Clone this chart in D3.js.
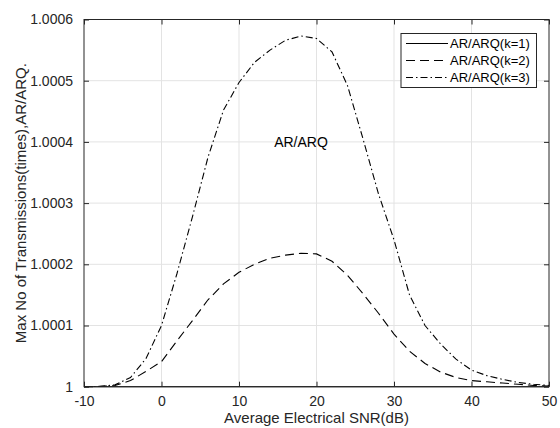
<!DOCTYPE html>
<meta charset="utf-8">
<style>
    body { margin: 0; background: #fff; }
    .container { width: 560px; height: 428px; }
    text { font-family: "Liberation Sans", Arial, sans-serif; fill: #262626; }
</style>
<body>

<div class="container"></div>

<script src="https://cdn.jsdelivr.net/npm/d3@7"></script>

<script>

// Average electrical SNR (dB)
const snr = [-10, -8, -6, -4, -2, 0, 2, 4, 6, 8, 10, 12, 14, 16, 18, 20,
             22, 24, 26, 28, 30, 32, 34, 36, 38, 40, 42, 44, 46, 48, 50];

// max no. of transmissions
const k1 = [1, 1, 1, 1, 1, 1, 1, 1, 1, 1, 1, 1, 1, 1, 1, 1,
            1, 1, 1, 1, 1, 1, 1, 1, 1, 1, 1, 1, 1, 1, 1];
const k2 = [1, 1.0000003, 1.000002, 1.00001, 1.000025, 1.000041, 1.000075, 1.000108,
            1.000142, 1.000168, 1.000187, 1.0002, 1.00021, 1.000215, 1.000218, 1.000217,
            1.000205, 1.000182, 1.000152, 1.00012, 1.000086, 1.000058, 1.000038, 1.000024,
            1.000015, 1.00001, 1.000008, 1.000006, 1.000004, 1.000002, 1.000001];
const k3 = [1, 1.0000005, 1.000003, 1.000015, 1.000046, 1.0001, 1.000185, 1.000278,
            1.000375, 1.000452, 1.000497, 1.00053, 1.00055, 1.000566, 1.000573, 1.000569,
            1.000547, 1.000492, 1.000405, 1.000315, 1.00024, 1.00015, 1.0001, 1.00007,
            1.000045, 1.000027, 1.000018, 1.000012, 1.000007, 1.000004, 1.000002];

const xTicks = [-10, 0, 10, 20, 30, 40, 50];
const xTickLabels = ['-10', '0', '10', '20', '30', '40', '50'];
const yTicks = [1, 1.0001, 1.0002, 1.0003, 1.0004, 1.0005, 1.0006];
const yTickLabels = ['1', '1.0001', '1.0002', '1.0003', '1.0004', '1.0005', '1.0006'];

const seriesNames = ['AR/ARQ(k=1)', 'AR/ARQ(k=2)', 'AR/ARQ(k=3)'];
const seriesData = [k1, k2, k3];
const dashes = ['none', '9,5', '7,3,1.5,3'];

const width = 560;
const height = 428;
const margin = { top: 19.5, right: 11, bottom: 41.3, left: 84 };

const svg = d3.select('.container')
    .append('svg')
    .attr('width', width)
    .attr('height', height)
    .attr('viewBox', `0 0 ${width} ${height}`);

const x = d3.scaleLinear().domain([-10, 50]).range([margin.left, width - margin.right]);
const y = d3.scaleLinear().domain([1, 1.0006]).range([height - margin.bottom, margin.top]);

const x0 = x.range()[0], x1 = x.range()[1];
const y0 = y.range()[0], y1 = y.range()[1];

// grid
svg.append('g')
    .selectAll('line.gx')
    .data(xTicks.slice(1, -1))
    .enter().append('line')
    .attr('x1', d => x(d)).attr('x2', d => x(d))
    .attr('y1', y1).attr('y2', y0)
    .style('stroke', '#e3e3e3').style('stroke-width', 1);

svg.append('g')
    .selectAll('line.gy')
    .data(yTicks.slice(1, -1))
    .enter().append('line')
    .attr('x1', x0).attr('x2', x1)
    .attr('y1', d => y(d)).attr('y2', d => y(d))
    .style('stroke', '#e3e3e3').style('stroke-width', 1);

// curves
const line = d3.line()
    .x((d, i) => x(snr[i]))
    .y(d => y(d));

svg.append('g')
    .selectAll('path.series')
    .data(seriesData)
    .enter().append('path')
    .attr('class', 'series')
    .attr('d', line)
    .style('fill', 'none')
    .style('stroke', '#000')
    .style('stroke-width', 1.1)
    .style('stroke-dasharray', (d, i) => dashes[i]);

// axes (inward ticks, mirrored on top/right)
const tickLen = 5;

const axBottom = svg.append('g')
    .attr('transform', `translate(0,${y0})`)
    .call(d3.axisBottom(x).tickValues(xTicks).tickSizeInner(-tickLen).tickSizeOuter(0).tickPadding(9)
        .tickFormat((d, i) => xTickLabels[i]));
const axTop = svg.append('g')
    .attr('transform', `translate(0,${y1})`)
    .call(d3.axisTop(x).tickValues(xTicks).tickSizeInner(-tickLen).tickSizeOuter(0).tickFormat(''));
const axLeft = svg.append('g')
    .attr('transform', `translate(${x0},0)`)
    .call(d3.axisLeft(y).tickValues(yTicks).tickSizeInner(-tickLen).tickSizeOuter(0).tickPadding(11)
        .tickFormat((d, i) => yTickLabels[i]));
const axRight = svg.append('g')
    .attr('transform', `translate(${x1},0)`)
    .call(d3.axisRight(y).tickValues(yTicks).tickSizeInner(-tickLen).tickSizeOuter(0).tickFormat(''));

[axBottom, axTop, axLeft, axRight].forEach(g => {
    g.select('.domain').remove();
    g.selectAll('.tick line').style('stroke', '#262626');
    g.selectAll('.tick text')
        .style('font-family', '"Liberation Sans", Arial, sans-serif')
        .style('font-size', '14px')
        .style('fill', '#262626');
});

// box
svg.append('rect')
    .attr('x', x0).attr('y', y1)
    .attr('width', x1 - x0).attr('height', y0 - y1)
    .style('fill', 'none')
    .style('stroke', '#262626')
    .style('stroke-width', 1);

// axis labels
svg.append('text')
    .attr('x', (x0 + x1) / 2)
    .attr('y', 423)
    .attr('text-anchor', 'middle')
    .style('font-size', '15px')
    .text('Average Electrical SNR(dB)');

svg.append('text')
    .attr('transform', `translate(26,${(y0 + y1) / 2}) rotate(-90)`)
    .attr('text-anchor', 'middle')
    .style('font-size', '15px')
    .text('Max No of Transmissions(times),AR/ARQ.');

// annotation
svg.append('text')
    .attr('x', x(18))
    .attr('y', y(1.0004) + 5)
    .attr('text-anchor', 'middle')
    .style('font-size', '14px')
    .style('fill', '#000')
    .text('AR/ARQ');

// legend
const lg = svg.append('g');
lg.append('rect')
    .attr('x', 401).attr('y', 33.5)
    .attr('width', 135.5).attr('height', 54)
    .style('fill', '#fff')
    .style('stroke', '#262626')
    .style('stroke-width', 1);

const rows = lg.selectAll('g.row')
    .data(seriesNames)
    .enter().append('g')
    .attr('transform', (d, i) => `translate(0,${43.5 + i * 17})`);

rows.append('line')
    .attr('x1', 406).attr('x2', 448)
    .style('stroke', '#000')
    .style('stroke-width', 1.1)
    .style('stroke-dasharray', (d, i) => dashes[i]);

rows.append('text')
    .attr('x', 450)
    .attr('y', 4.5)
    .style('font-size', '13px')
    .style('fill', '#000')
    .text(d => d);

</script>
</body>
